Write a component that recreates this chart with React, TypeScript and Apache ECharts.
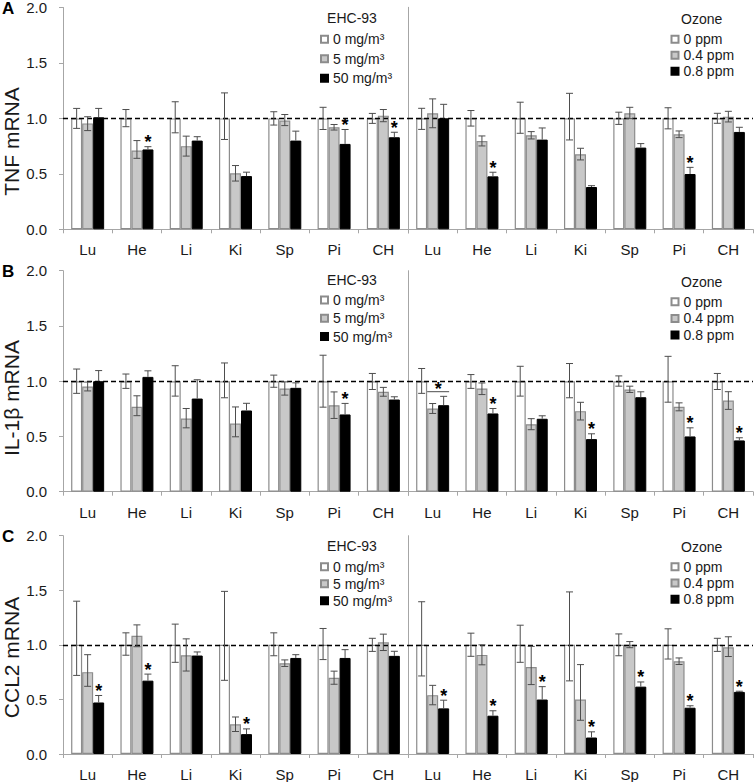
import React, { useEffect, useRef } from 'react';
import * as echarts from 'echarts';

// ---------- categories / labels ----------
const organs = ['Lu', 'He', 'Li', 'Ki', 'Sp', 'Pi', 'CH'];
const ehcDoses = ['0 mg/m³', '5 mg/m³', '50 mg/m³'];
const ozoneDoses = ['0 ppm', '0.4 ppm', '0.8 ppm'];
const rowLetters = ['A', 'B', 'C'];
const yNames = ['TNF mRNA', 'IL-1β mRNA', 'CCL2 mRNA'];
const controlMean = [1, 1, 1, 1, 1, 1, 1];

// ---------- A: TNF, EHC-93 ----------
const tnfEhcMean5 = [0.955, 0.71, 0.75, 0.505, 0.98, 0.92, 1.025];
const tnfEhcMean50 = [1.01, 0.72, 0.8, 0.48, 0.8, 0.77, 0.83];
const tnfEhcUp0 = [0.09, 0.08, 0.15, 0.23, 0.06, 0.1, 0.045];
const tnfEhcDn0 = [0.09, 0.075, 0.13, 0.19, 0.06, 0.1, 0.045];
const tnfEhcUp5 = [0.06, 0.09, 0.09, 0.07, 0.055, 0.025, 0.055];
const tnfEhcDn5 = [0.065, 0.07, 0.09, 0.07, 0.045, 0.025, 0.055];
const tnfEhcUp50 = [0.08, 0.025, 0.035, 0.035, 0.085, 0.13, 0.045];
const tnfEhcSig50 = [0, 1, 0, 0, 0, 1, 1];

// ---------- A: TNF, Ozone ----------
const tnfOzMean04 = [1.045, 0.796, 0.847, 0.676, 1.045, 0.856, 1.015];
const tnfOzMean08 = [1.0, 0.477, 0.808, 0.381, 0.736, 0.498, 0.877];
const tnfOzUp0 = [0.09, 0.07, 0.145, 0.225, 0.055, 0.095, 0.045];
const tnfOzDn0 = [0.1, 0.07, 0.135, 0.195, 0.055, 0.095, 0.045];
const tnfOzUp04 = [0.13, 0.045, 0.033, 0.054, 0.054, 0.03, 0.048];
const tnfOzDn04 = [0.13, 0.045, 0.033, 0.051, 0.048, 0.03, 0.048];
const tnfOzUp08 = [0.126, 0.037, 0.105, 0.012, 0.036, 0.06, 0.042];
const tnfOzSig08 = [0, 1, 0, 0, 0, 1, 0];

// ---------- B: IL-1β, EHC-93 ----------
const il1bEhcMean5 = [0.952, 0.768, 0.663, 0.617, 0.934, 0.783, 0.904];
const il1bEhcMean50 = [1.0, 1.039, 0.843, 0.735, 0.94, 0.699, 0.834];
const il1bEhcUp0 = [0.11, 0.065, 0.14, 0.165, 0.055, 0.235, 0.07];
const il1bEhcDn0 = [0.11, 0.065, 0.135, 0.15, 0.055, 0.235, 0.075];
const il1bEhcUp5 = [0.04, 0.1, 0.09, 0.15, 0.06, 0.12, 0.04];
const il1bEhcDn5 = [0.04, 0.08, 0.085, 0.12, 0.06, 0.12, 0.04];
const il1bEhcUp50 = [0.096, 0.055, 0.17, 0.065, 0.045, 0.1, 0.025];
const il1bEhcSig50 = [0, 0, 0, 0, 0, 1, 0];

// ---------- B: IL-1β, Ozone ----------
const il1bOzMean04 = [0.753, 0.934, 0.611, 0.729, 0.925, 0.768, 0.825];
const il1bOzMean08 = [0.783, 0.708, 0.66, 0.476, 0.855, 0.5, 0.464];
const il1bOzUp0 = [0.115, 0.06, 0.135, 0.16, 0.048, 0.225, 0.07];
const il1bOzDn0 = [0.11, 0.065, 0.135, 0.15, 0.045, 0.19, 0.075];
const il1bOzUp04 = [0.045, 0.05, 0.05, 0.08, 0.03, 0.036, 0.08];
const il1bOzDn04 = [0.045, 0.055, 0.05, 0.08, 0.027, 0.036, 0.08];
const il1bOzUp08 = [0.08, 0.045, 0.027, 0.048, 0.049, 0.078, 0.024];
const il1bOzSig08 = [0, 1, 0, 1, 0, 1, 1];
const il1bOzBracket = [0.905, 0, 0, 0, 0, 0, 0]; // level of bracket over 0.4 + 0.8 ppm (0 = none)

// ---------- C: CCL2, EHC-93 ----------
const ccl2EhcMean5 = [0.75, 1.083, 0.905, 0.272, 0.832, 0.699, 1.023];
const ccl2EhcMean50 = [0.472, 0.672, 0.902, 0.182, 0.88, 0.88, 0.899];
const ccl2EhcUp0 = [0.4, 0.11, 0.19, 0.49, 0.11, 0.15, 0.06];
const ccl2EhcDn0 = [0.28, 0.095, 0.16, 0.325, 0.1, 0.135, 0.06];
const ccl2EhcUp5 = [0.16, 0.1, 0.15, 0.067, 0.03, 0.06, 0.075];
const ccl2EhcDn5 = [0.13, 0.1, 0.145, 0.066, 0.03, 0.06, 0.075];
const ccl2EhcUp50 = [0.064, 0.06, 0.033, 0.048, 0.03, 0.076, 0.042];
const ccl2EhcSig50 = [1, 1, 0, 1, 0, 0, 0];

// ---------- C: CCL2, Ozone ----------
const ccl2OzMean04 = [0.539, 0.908, 0.796, 0.499, 1.0, 0.85, 0.977];
const ccl2OzMean08 = [0.418, 0.351, 0.499, 0.151, 0.617, 0.424, 0.569];
const ccl2OzUp0 = [0.395, 0.107, 0.18, 0.485, 0.1, 0.147, 0.06];
const ccl2OzDn0 = [0.285, 0.105, 0.16, 0.33, 0.1, 0.13, 0.06];
const ccl2OzUp04 = [0.09, 0.092, 0.19, 0.32, 0.03, 0.03, 0.097];
const ccl2OzDn04 = [0.088, 0.091, 0.16, 0.19, 0.026, 0.03, 0.084];
const ccl2OzUp08 = [0.075, 0.045, 0.118, 0.052, 0.043, 0.018, 0.006];
const ccl2OzSig08 = [1, 1, 1, 1, 1, 1, 1];

const none7 = [0, 0, 0, 0, 0, 0, 0];

type Panel = {
  doses: string[];
  title: string;
  means: number[][];
  up: number[][];
  dn: number[][];
  sig: number[];
  bracket: number[];
};

const panels: Panel[] = [
  { doses: ehcDoses, title: 'EHC-93', means: [controlMean, tnfEhcMean5, tnfEhcMean50], up: [tnfEhcUp0, tnfEhcUp5, tnfEhcUp50], dn: [tnfEhcDn0, tnfEhcDn5], sig: tnfEhcSig50, bracket: none7 },
  { doses: ozoneDoses, title: 'Ozone', means: [controlMean, tnfOzMean04, tnfOzMean08], up: [tnfOzUp0, tnfOzUp04, tnfOzUp08], dn: [tnfOzDn0, tnfOzDn04], sig: tnfOzSig08, bracket: none7 },
  { doses: ehcDoses, title: 'EHC-93', means: [controlMean, il1bEhcMean5, il1bEhcMean50], up: [il1bEhcUp0, il1bEhcUp5, il1bEhcUp50], dn: [il1bEhcDn0, il1bEhcDn5], sig: il1bEhcSig50, bracket: none7 },
  { doses: ozoneDoses, title: 'Ozone', means: [controlMean, il1bOzMean04, il1bOzMean08], up: [il1bOzUp0, il1bOzUp04, il1bOzUp08], dn: [il1bOzDn0, il1bOzDn04], sig: il1bOzSig08, bracket: il1bOzBracket },
  { doses: ehcDoses, title: 'EHC-93', means: [controlMean, ccl2EhcMean5, ccl2EhcMean50], up: [ccl2EhcUp0, ccl2EhcUp5, ccl2EhcUp50], dn: [ccl2EhcDn0, ccl2EhcDn5], sig: ccl2EhcSig50, bracket: none7 },
  { doses: ozoneDoses, title: 'Ozone', means: [controlMean, ccl2OzMean04, ccl2OzMean08], up: [ccl2OzUp0, ccl2OzUp04, ccl2OzUp08], dn: [ccl2OzDn0, ccl2OzDn04], sig: ccl2OzSig08, bracket: none7 },
];

// ---------- layout / style ----------
const FONT = '"Liberation Sans", Arial, Helvetica, sans-serif';
const ROW_TOP = [7.3, 270.7, 535.7];
const ROW_H = [222, 221, 220.3];
const LEFT_X = [63, 408];
const GRID_W = 345;
const BAR_W = 11;
const ERR_COLOR = '#4d4d4d';
const AXIS_COLOR = '#a6a6a6';
const TEXT_COLOR = '#1a1a1a';
const STAR_SIZE = 18;
const BAR_STYLES = [
  { color: '#ffffff', borderColor: '#8c8c8c', borderWidth: 1.2 },
  { color: '#c8c8c8', borderColor: '#8c8c8c', borderWidth: 1.2 },
  { color: '#000000', borderColor: '#000000', borderWidth: 1 },
];
const LETTER_Y = [8, 271, 536];
const YNAME_Y = [141.5, 398, 657.5];
const LEGEND_TITLE_Y = [[18, 19.3], [280, 282.3], [546, 546.7]];
const LEGEND_TOP = [[32.3, 32.3], [293, 294.7], [559.7, 559.7]];
const LEGEND_GAP = [[5.5, 2], [4.3, 2.7], [3, 2.3]];

function errorSeries(g: number, p: Panel) {
  const data: number[][] = [];
  for (let c = 0; c < organs.length; c++) {
    for (let k = 0; k < 3; k++) {
      const m = p.means[k][c];
      const hi = m + p.up[k][c];
      const lo = k < 2 ? m - p.dn[k][c] : m;
      data.push([c, hi, lo, k, k === 2 ? p.sig[c] : 0, k === 1 ? p.bracket[c] : 0]);
    }
  }
  const starStyle = {
    text: '*', fontSize: STAR_SIZE, fontWeight: 'bold', fontFamily: FONT, fill: '#000',
    align: 'center', verticalAlign: 'middle',
  };
  return {
    type: 'custom',
    xAxisIndex: g,
    yAxisIndex: g,
    z: 5,
    silent: true,
    encode: { x: 0, y: [1, 2] },
    data,
    renderItem: (params: any, api: any) => {
      const c = api.value(0);
      const hi = api.value(1);
      const lo = api.value(2);
      const k = api.value(3);
      const s = api.value(4);
      const br = api.value(5);
      const cx = api.coord([c, 0])[0] + (k - 1) * BAR_W;
      const yHi = api.coord([c, hi])[1];
      const yLo = api.coord([c, lo])[1];
      const st = { stroke: ERR_COLOR, lineWidth: 1 };
      const children: any[] = [
        { type: 'line', shape: { x1: cx, y1: yHi, x2: cx, y2: yLo }, style: st },
        { type: 'line', shape: { x1: cx - 3.5, y1: yHi, x2: cx + 3.5, y2: yHi }, style: st },
      ];
      if (k < 2) children.push({ type: 'line', shape: { x1: cx - 3.5, y1: yLo, x2: cx + 3.5, y2: yLo }, style: st });
      if (s) {
        children.push({ type: 'text', x: cx, y: yHi - 4.5, style: starStyle });
      }
      if (br) {
        const yb = api.coord([c, br])[1];
        children.push({ type: 'line', shape: { x1: cx - BAR_W / 2, y1: yb, x2: cx + BAR_W * 1.5, y2: yb }, style: st });
        children.push({ type: 'text', x: cx + BAR_W / 2, y: yb - 2.5, style: starStyle });
      }
      return { type: 'group', children };
    },
  };
}

function buildOption() {
  const grid: any[] = [];
  const xAxis: any[] = [];
  const yAxis: any[] = [];
  const series: any[] = [];
  const legend: any[] = [];
  const graphic: any[] = [];

  panels.forEach((p, g) => {
    const r = Math.floor(g / 2);
    const side = g % 2;
    grid.push({ left: LEFT_X[side], top: ROW_TOP[r], width: GRID_W, height: ROW_H[r], containLabel: false });
    xAxis.push({
      type: 'category', gridIndex: g, data: organs,
      axisLine: { lineStyle: { color: AXIS_COLOR, width: 1 } },
      axisTick: { show: true, length: 4, lineStyle: { color: AXIS_COLOR } },
      axisLabel: { fontSize: 15, color: TEXT_COLOR, fontFamily: FONT, margin: 13, interval: 0 },
      splitLine: { show: false },
    });
    yAxis.push({
      type: 'value', gridIndex: g, min: 0, max: 2, interval: 0.5,
      axisLine: { show: true, lineStyle: { color: AXIS_COLOR, width: 1 } },
      axisTick: { show: side === 0, length: 4, lineStyle: { color: AXIS_COLOR } },
      axisLabel: { show: side === 0, fontSize: 15, color: TEXT_COLOR, fontFamily: FONT, margin: 16, formatter: (v: number) => v.toFixed(1) },
      splitLine: { show: false },
    });
    for (let k = 0; k < 3; k++) {
      const s: any = {
        type: 'bar', name: p.doses[k], xAxisIndex: g, yAxisIndex: g,
        data: p.means[k], barWidth: BAR_W, barGap: '0%', silent: true,
        itemStyle: BAR_STYLES[k],
      };
      if (k === 2) {
        s.markLine = {
          silent: true, symbol: ['none', 'none'], label: { show: false },
          lineStyle: { color: '#000', type: [5, 3], width: 1.3 },
          data: [{ yAxis: 1 }],
        };
      }
      series.push(s);
    }
    series.push(errorSeries(g, p));

    legend.push({
      data: p.doses, orient: 'vertical', padding: 0,
      left: side === 0 ? 320 : 670.5, top: LEGEND_TOP[r][side],
      itemWidth: 7, itemHeight: 7, itemGap: LEGEND_GAP[r][side], itemTextGap: 3,
      icon: 'rect', selectedMode: false,
      textStyle: { fontSize: 14, color: TEXT_COLOR, fontFamily: FONT },
    });
    graphic.push({
      type: 'text', x: side === 0 ? 352 : 701.7, y: LEGEND_TITLE_Y[r][side],
      style: { text: p.title, fontSize: 14, fontFamily: FONT, fill: TEXT_COLOR, align: 'center', verticalAlign: 'middle' },
    });
  });

  rowLetters.forEach((L, r) => {
    graphic.push({
      type: 'text', x: 2, y: LETTER_Y[r],
      style: { text: L, fontSize: 17, fontWeight: 'bold', fontFamily: FONT, fill: '#000', align: 'left', verticalAlign: 'middle' },
    });
    graphic.push({
      type: 'text', x: 11.5, y: YNAME_Y[r], rotation: Math.PI / 2,
      style: { text: yNames[r], fontSize: 21, fontFamily: FONT, fill: TEXT_COLOR, align: 'center', verticalAlign: 'middle' },
    });
  });

  return {
    animation: false,
    backgroundColor: '#ffffff',
    textStyle: { fontFamily: FONT },
    grid, xAxis, yAxis, series, legend, graphic,
  };
}

export default function App() {
  const ref = useRef<HTMLDivElement>(null);
  useEffect(() => {
    if (!ref.current) return;
    const chart = echarts.init(ref.current, null, { renderer: 'svg' });
    chart.setOption(buildOption() as any);
    return () => chart.dispose();
  }, []);
  return (
    <div
      ref={ref}
      style={{ position: 'fixed', left: 0, top: 0, width: 755, height: 782, background: '#fff' }}
    />
  );
}
